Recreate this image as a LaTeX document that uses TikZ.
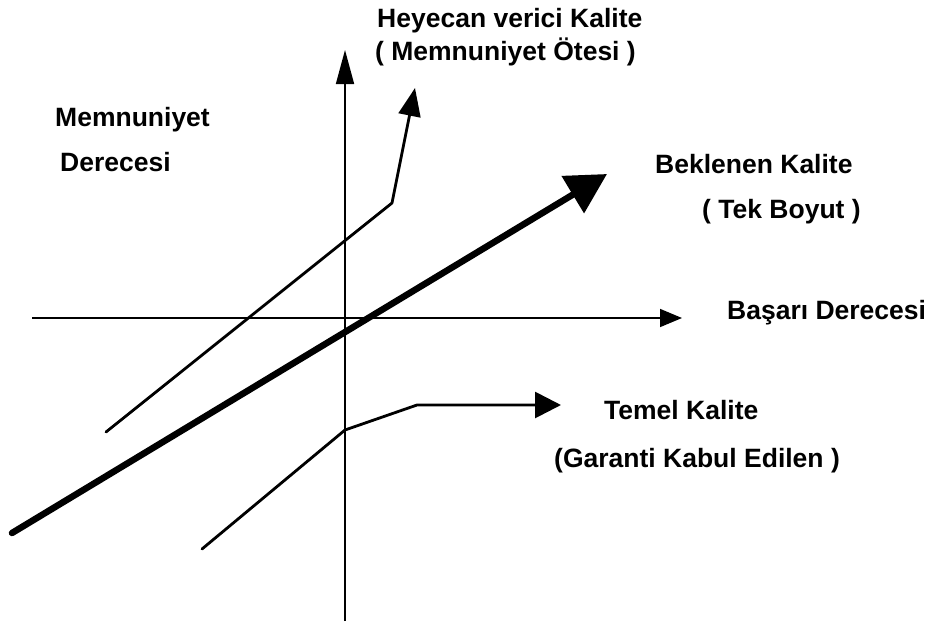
\documentclass[tikz,border=0pt]{standalone}
\usepackage{fontspec}
\setmainfont{Liberation Sans}
\usepackage{tikz}
\usetikzlibrary{arrows.meta, positioning}
\tikzset{
  lbl/.style={font=\fontsize{26.5}{30}\selectfont\bfseries, inner sep=0pt, anchor=base west},
  axis/.style={line width=1.6pt, -{Triangle[length=22pt, width=18pt]}},
  curve/.style={line width=2.8pt, line join=round, line cap=round},
  bigarrow/.style={line width=6.5pt, line cap=round, -{Triangle[length=40pt, width=42pt]}}
}

\begin{document}
\begin{tikzpicture}[x=1pt, y=-1pt]
  \useasboundingbox (0,0) rectangle (931,624);

  % Axes
  \coordinate (ybot) at (345,621);
  \coordinate (ytop) at (345,50);
  \coordinate (xleft) at (32,318);
  \coordinate (xright) at (682,318);
  \draw[axis, -{Triangle[length=34pt, width=18pt]}] (ybot) -- (ytop);
  \draw[axis] (xleft) -- (xright);

  % Heyecan verici kalite
  \coordinate (h1) at (106,432);
  \coordinate (h2) at (392,203);
  \coordinate (h3) at (415,88);
  \draw[curve, -{Triangle[length=28pt, width=22pt]}] (h1) -- (h2) -- (h3);

  % Beklenen kalite
  \coordinate (b1) at (12,533);
  \coordinate (b2) at (607,174);
  \draw[bigarrow] (b1) -- (b2);

  % Temel kalite
  \coordinate (t1) at (202,549);
  \coordinate (t2) at (345,430);
  \coordinate (t3) at (417,405);
  \coordinate (t4) at (561,405);
  \draw[curve, -{Triangle[length=26pt, width=26pt]}] (t1) -- (t2) -- (t3) -- (t4);

  % Labels
  \node[lbl] (heyecan) at (377,27) {Heyecan verici Kalite};
  \node[lbl] (otesi) at (375,60) {( Memnuniyet Ötesi )};
  \node[lbl] (memn) at (55,126) {Memnuniyet};
  \node[lbl] (derece) at (60,171) {Derecesi};
  \node[lbl] (beklenen) at (655,173) {Beklenen Kalite};
  \node[lbl] (tekboyut) at (702,218) {( Tek Boyut )};
  \node[lbl] (basari) at (727,319) {Başarı Derecesi};
  \node[lbl] (temel) at (604,419) {Temel Kalite};
  \node[lbl] (garanti) at (554,467) {(Garanti Kabul Edilen )};
\end{tikzpicture}
\end{document}
